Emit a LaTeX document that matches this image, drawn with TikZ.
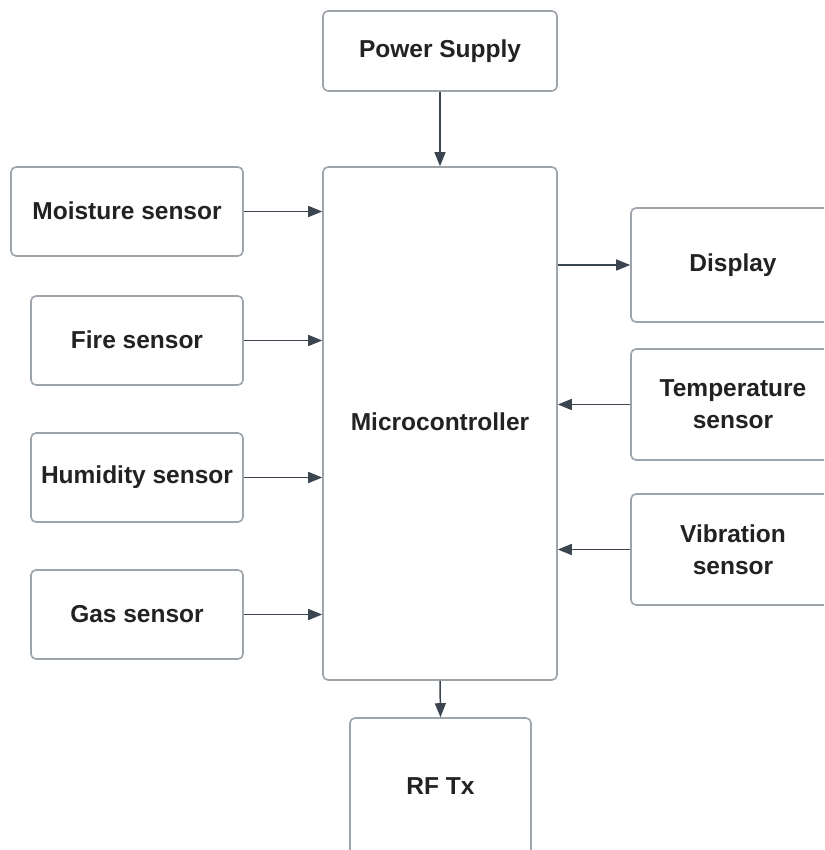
\documentclass[tikz,border=0pt]{standalone}
\usepackage{fontspec}
\setmainfont{Liberation Sans}
\usetikzlibrary{arrows.meta}
\definecolor{boxline}{HTML}{9EA4AB}
\definecolor{arrline}{HTML}{3B4550}
\definecolor{txt}{HTML}{222222}
\tikzset{
  blk/.style={draw=boxline, line width=1.6pt, rounded corners=5pt, fill=white,
    text=txt, font=\bfseries\fontsize{24.5}{32}\selectfont, align=center,
    inner sep=0pt, anchor=center},
  arr/.style={draw=arrline, line width=1.5pt, -{Triangle[length=14pt,width=11pt]}}
}
\begin{document}
\begin{tikzpicture}[x=1pt,y=-1pt]
\useasboundingbox (0,0) rectangle (824,850);
\clip (0,0) rectangle (824,850);
\node[blk, minimum width=234pt, minimum height=80pt] (ps) at (440,51) {\raisebox{2pt}{Power Supply}};
\node[blk, minimum width=234pt, minimum height=513pt] (mc) at (440,423.5) {\raisebox{3pt}{Microcontroller}};
\node[blk, minimum width=232pt, minimum height=89pt] (mo) at (127,211.5) {\raisebox{2pt}{Moisture sensor}};
\node[blk, minimum width=212pt, minimum height=89pt] (fi) at (137,340.5) {\raisebox{2pt}{Fire sensor}};
\node[blk, minimum width=212pt, minimum height=89pt] (hu) at (137,477.5) {\raisebox{1pt}{Humidity sensor}};
\node[blk, minimum width=212pt, minimum height=89pt] (ga) at (137,614.5) {\raisebox{2pt}{Gas sensor}};
\node[blk, minimum width=200pt, minimum height=114pt] (di) at (731,265) {\hspace*{4pt}Display};
\node[blk, minimum width=200pt, minimum height=111pt] (te) at (731,404.5) {\hspace*{4pt}Temperature\\\hspace*{4pt}sensor};
\node[blk, minimum width=200pt, minimum height=111pt] (vi) at (731,549.5) {\hspace*{4pt}Vibration\\\hspace*{4pt}sensor};
\node[blk, minimum width=181pt, minimum height=136pt] (rf) at (440.5,786) {RF Tx};
\draw[arr] (ps.south) -- (mc.north);
\draw[arr] (mo.east) -- (mo.east -| mc.west);
\draw[arr] (fi.east) -- (fi.east -| mc.west);
\draw[arr] (hu.east) -- (hu.east -| mc.west);
\draw[arr] (ga.east) -- (ga.east -| mc.west);
\draw[arr] (mc.east |- di.west) -- (di.west);
\draw[arr] (te.west) -- (te.west -| mc.east);
\draw[arr] (vi.west) -- (vi.west -| mc.east);
\draw[arr] (mc.south) -- (rf.north);
\end{tikzpicture}
\end{document}
